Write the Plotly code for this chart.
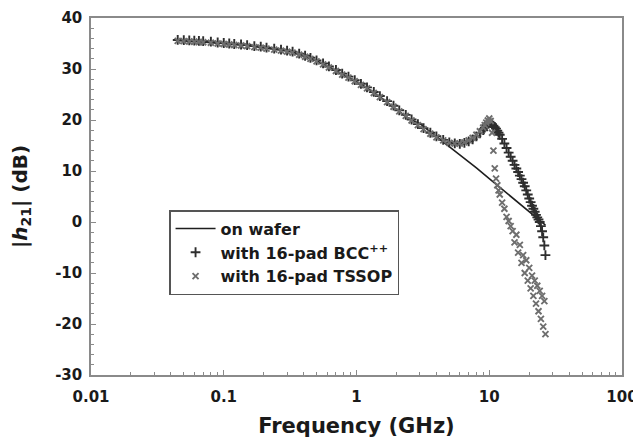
import plotly.graph_objects as go

# ---------------- data ----------------
f_wafer = [0.045, 0.06, 0.08, 0.1, 0.15, 0.2, 0.25, 0.3, 0.35, 0.4, 0.5, 0.6, 0.7,
           0.8, 1.0, 1.2, 1.5, 2.0, 2.5, 3.0, 4.0, 5.0, 6.0, 8.0, 10.0, 12.0, 15.0,
           18.0, 21.0, 24.0, 26.5]
h21_wafer = [35.6, 35.4, 35.2, 35.0, 34.6, 34.2, 33.9, 33.6, 33.2, 32.6, 31.6, 30.6,
             29.7, 28.9, 27.5, 26.3, 24.6, 22.1, 20.2, 19.3, 16.8, 14.8, 13.2, 10.6,
             8.5, 6.8, 4.7, 3.0, 1.5, 0.3, -0.6]

f_pkg = [0.045, 0.05, 0.055, 0.06, 0.065, 0.07, 0.08, 0.09, 0.1, 0.11, 0.12, 0.135,
         0.15, 0.17, 0.19, 0.21, 0.24, 0.27, 0.3, 0.33, 0.37, 0.41, 0.45, 0.5, 0.56,
         0.62, 0.7, 0.78, 0.87, 0.97, 1.08, 1.2, 1.35, 1.5, 1.7, 1.9, 2.1, 2.35, 2.6,
         2.9, 3.2, 3.6, 4.0, 4.5, 5.0, 5.5, 6.0, 6.5, 7.0, 7.5, 8.0, 8.5, 9.0, 9.25,
         9.5, 9.75, 10.0, 10.25, 10.5, 10.75, 11.0, 11.25, 11.5, 11.75, 12.0, 12.5,
         13.0, 13.5, 14.0, 14.5, 15.0, 15.5, 16.0, 16.5, 17.0, 17.5, 18.0, 18.5, 19.0,
         19.5, 20.0, 20.5, 21.0, 21.5, 22.0, 22.5, 23.0, 23.5, 24.0, 24.5, 25.0, 25.5,
         26.0, 26.5]

h21_bcc = [35.7, 35.65, 35.6, 35.55, 35.5, 35.45, 35.35, 35.2, 35.1, 35.0, 34.9, 34.8,
           34.7, 34.5, 34.4, 34.2, 34.0, 33.8, 33.6, 33.4, 33.0, 32.6, 32.2, 31.7, 31.1,
           30.5, 29.8, 29.1, 28.5, 27.8, 27.1, 26.4, 25.5, 24.7, 23.7, 22.8, 21.9, 21.0,
           20.1, 19.2, 18.4, 17.5, 16.8, 16.1, 15.6, 15.4, 15.3, 15.5, 15.8, 16.2, 16.8,
           17.4, 18.0, 18.5, 19.0, 19.3, 19.5, 19.4, 19.2, 18.9, 18.6, 18.3, 17.9, 17.5,
           17.1, 16.3, 15.4, 14.5, 13.6, 12.8, 12.0, 11.2, 10.5, 9.8, 9.1, 8.4, 7.7,
           7.0, 6.2, 5.4, 4.6, 3.9, 3.2, 2.6, 2.0, 1.4, 0.9, 0.5, 0.0, -0.8, -1.8,
           -3.0, -4.6, -6.5]

h21_tssop = [35.5, 35.45, 35.4, 35.35, 35.3, 35.25, 35.15, 35.0, 34.9, 34.8, 34.7, 34.6,
             34.5, 34.3, 34.2, 34.0, 33.8, 33.6, 33.4, 33.2, 32.8, 32.4, 32.0, 31.5, 30.9,
             30.3, 29.6, 28.9, 28.3, 27.6, 26.9, 26.2, 25.3, 24.5, 23.5, 22.6, 21.7, 20.8,
             19.9, 19.0, 18.2, 17.3, 16.6, 16.0, 15.5, 15.4, 15.4, 15.6, 16.0, 16.5, 17.1,
             17.8, 18.5, 19.0, 19.5, 19.9, 20.3, 19.8, 17.5, 14.0, 10.5, 8.5, 7.2, 6.2,
             5.4, 3.8, 2.6, 1.0, 0.2, -0.8, -1.8, -4.0, -2.5, -6.0, -4.5, -8.0, -6.5,
             -10.0, -7.5, -11.5, -9.0, -13.0, -10.5, -14.5, -11.5, -16.0, -12.5, -17.5,
             -13.5, -19.0, -14.5, -20.5, -15.5, -22.0]

x_tick_vals = [0.01, 0.1, 1, 10, 100]
x_tick_text = ["0.01", "0.1", "1", "10", "100"]
y_tick_vals = [-30, -20, -10, 0, 10, 20, 30, 40]
y_tick_text = ["-30", "-20", "-10", "0", "10", "20", "30", "40"]

# ---------------- figure ----------------
FONT = "DejaVu Sans, Verdana, sans-serif"
AX = "#8a8a8a"
TXT = "#1a1a1a"

fig = go.Figure()
fig.add_trace(go.Scatter(
    x=f_wafer, y=h21_wafer, mode="lines", name="on wafer",
    line=dict(color="#1e1e1e", width=1.6)))
fig.add_trace(go.Scatter(
    x=f_pkg, y=h21_bcc, mode="markers", name="with 16-pad BCC<sup>++</sup>",
    marker=dict(symbol="cross-thin", size=7, color="#2e2e2e",
                line=dict(color="#2e2e2e", width=1.9))))
fig.add_trace(go.Scatter(
    x=f_pkg, y=h21_tssop, mode="markers", name="with 16-pad TSSOP",
    marker=dict(symbol="x-thin", size=6, color="#6e6e6e",
                line=dict(color="#6e6e6e", width=1.9))))

# The page body has an 8 px default margin, so the figure is sized/offset to compensate.
fig.update_layout(
    width=633, height=430,
    margin=dict(l=83, r=19, t=10, b=63, autoexpand=False),
    paper_bgcolor="white", plot_bgcolor="white",
    font=dict(family=FONT, size=15, color=TXT),
    showlegend=True,
    legend=dict(
        x=0.147, y=0.462, xanchor="left", yanchor="top",
        bgcolor="white", bordercolor="#555", borderwidth=1.5,
        font=dict(family=FONT, size=16, color=TXT, weight="bold"),
        tracegroupgap=0, itemwidth=40),
    xaxis=dict(
        type="log", range=[-2, 2], automargin=False,
        tickvals=x_tick_vals, ticktext=x_tick_text,
        ticks="inside", ticklen=5, tickwidth=1.2, tickcolor=AX,
        minor=dict(ticks="inside", ticklen=3, tickwidth=1, tickcolor=AX, dtick="D1",
                   showgrid=False),
        showline=True, linecolor=AX, linewidth=1.5, mirror=True,
        showgrid=False, zeroline=False,
        ticklabelstandoff=7,
        tickfont=dict(family=FONT, size=15, color=TXT, weight="bold"),
        title=dict(text="Frequency (GHz)", standoff=20,
                   font=dict(family=FONT, size=21, color=TXT, weight="bold"))),
    yaxis=dict(
        range=[-30, 40], automargin=False,
        tickvals=y_tick_vals, ticktext=y_tick_text,
        ticks="inside", ticklen=5, tickwidth=1.2, tickcolor=AX,
        minor=dict(ticks="inside", ticklen=3, tickwidth=1, tickcolor=AX, dtick=2,
                   showgrid=False),
        showline=True, linecolor=AX, linewidth=1.5, mirror=True,
        showgrid=False, zeroline=False,
        ticklabelstandoff=4,
        tickfont=dict(family=FONT, size=15, color=TXT, weight="bold"),
        title=dict(text="|<i>h</i><sub>21</sub>| (dB)", standoff=22,
                   font=dict(family=FONT, size=20, color=TXT, weight="bold"))),
)

fig.write_html("out.html")
